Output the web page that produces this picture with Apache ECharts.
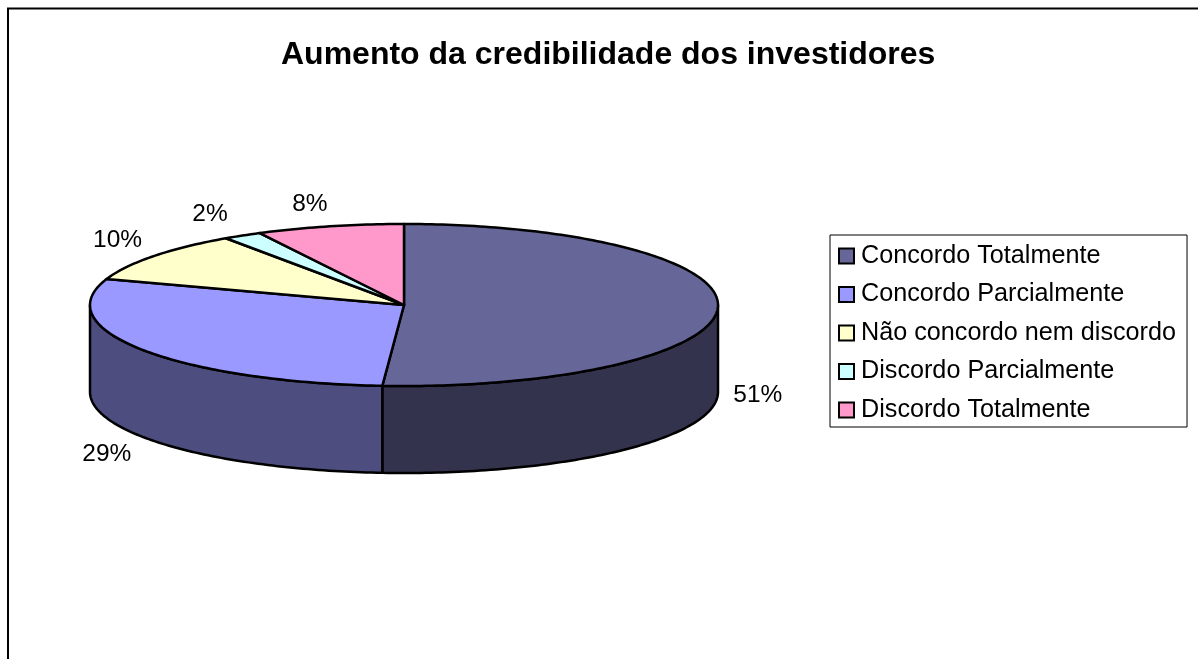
<!DOCTYPE html>
<html><head><meta charset="utf-8">
<script src="https://cdn.jsdelivr.net/npm/echarts@6/dist/echarts.min.js"></script>
<style>html,body{margin:0;padding:0;background:#fff}#c{width:1198px;height:659px}</style>
</head><body><div id="c"></div>
<script>
const titleText = 'Aumento da credibilidade dos investidores';
const categories = ['Concordo Totalmente','Concordo Parcialmente','Não concordo nem discordo','Discordo Parcialmente','Discordo Totalmente'];
const values = [51.1, 29.1, 10.2, 2.0, 7.6];
const topColors = ['#666699','#9999FF','#FFFFCC','#CCFFFF','#FF99CC'];
const wallColors = ['#33334D','#4D4D80','#80805F','#668080','#804D66'];

// pie layout
const CX = 404, CY = 305, RX = 314, RY = 81, DEPTH = 87;
const labelPush = [[40,0],[43,31],[45,27],[63,25],[84,23]];

const total = values.reduce((a,b)=>a+b,0);
const pt = (deg, dy) => {
  const r = deg*Math.PI/180;
  return [CX + RX*Math.sin(r), CY - RY*Math.cos(r) + (dy||0)];
};
function arc(a, b, dy){
  const out = [], n = Math.max(2, Math.ceil(Math.abs(b-a)));
  for(let i=0;i<=n;i++) out.push(pt(a+(b-a)*i/n, dy));
  return out;
}
function makeRender(idx){
  return function(){
    let cum = 0;
    for(let i=0;i<idx;i++) cum += values[i];
    const a = cum/total*360, b = (cum+values[idx])/total*360, mid = (a+b)/2;
    const stroke = {stroke:'#000', lineWidth:2.5, lineJoin:'round'};
    const children = [];
    const wa = Math.max(a,90), wb = Math.min(b,270);
    if(wb>wa){
      children.push({type:'polygon', z2:1, shape:{points:arc(wa,wb,0).concat(arc(wb,wa,DEPTH))},
        style:Object.assign({fill:wallColors[idx]},stroke)});
    }
    children.push({type:'polygon', z2:2, shape:{points:[[CX,CY]].concat(arc(a,b,0))},
      style:Object.assign({fill:topColors[idx]},stroke)});
    const r = mid*Math.PI/180, push = labelPush[idx];
    const front = Math.cos(r) < 0.05 ? DEPTH : 0;
    children.push({type:'text', z2:3, style:{
      x: CX + (RX+push[0])*Math.sin(r),
      y: CY - (RY+push[1])*Math.cos(r) + front,
      text: Math.round(values[idx]/total*100)+'%',
      fill:'#000', align:'center', verticalAlign:'middle',
      font:'24.5px "Liberation Sans", Arial, sans-serif'}});
    return {type:'group', children};
  };
}
const chart = echarts.init(document.getElementById('c'), null, {renderer:'canvas'});
chart.setOption({
  animation:false,
  backgroundColor:'#fff',
  title:{text:titleText, left:281, top:39, padding:0,
    textStyle:{fontFamily:'"Liberation Sans", Arial, sans-serif', fontSize:32, fontWeight:'bold', color:'#000'}},
  legend:{data:categories, orient:'vertical', left:830, top:235, selectedMode:false, icon:'rect',
    itemWidth:15, itemHeight:15, itemGap:11.5, padding:[7.5,11,3.5,8], borderColor:'#000', borderWidth:1, backgroundColor:'#fff',
    textStyle:{fontFamily:'"Liberation Sans", Arial, sans-serif', fontSize:25.2, color:'#000', padding:[0,0,0,2], lineHeight:27}},
  graphic:[{type:'polyline', silent:true, shape:{points:[[8,659],[8,8.5],[1198,8.5]]}, style:{fill:null, stroke:'#000', lineWidth:2}}],
  series: categories.map((name,i)=>({
    type:'custom', name, coordinateSystem:'none', renderItem:makeRender(i), data:[values[i]], silent:true,
    itemStyle:{color:topColors[i], borderColor:'#000', borderWidth:2}
  }))
});
</script></body></html>
